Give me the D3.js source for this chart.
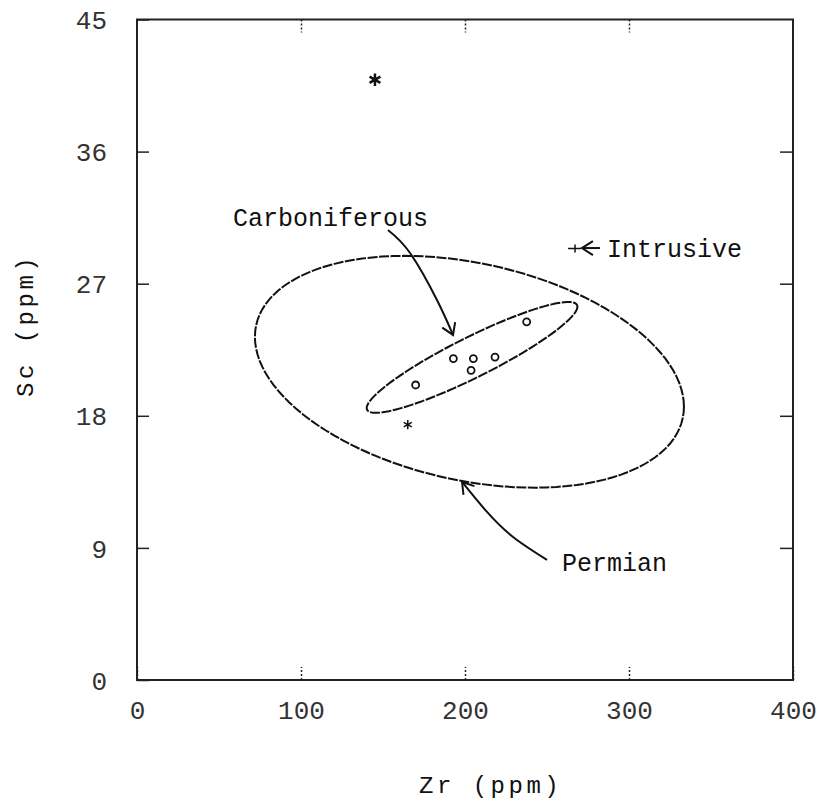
<!DOCTYPE html>
<html>
<head>
<meta charset="utf-8">
<script src="https://cdn.jsdelivr.net/npm/d3@7"></script>
<style>
  body { margin: 0; background: #fff; }
  svg { display: block; }
  .tick text { font-family: "Liberation Mono", monospace; font-size: 26px; fill: #333; }
  .note { font-family: "Liberation Mono", monospace; font-size: 25px; fill: #111; }
  .title { font-family: "Liberation Mono", monospace; font-size: 24px; letter-spacing: 3.5px; fill: #111; }
</style>
</head>
<body>
<script>
// axis setup
var xTicks = [0, 100, 200, 300, 400];
var yTicks = [0, 9, 18, 27, 36, 45];

// samples, Zr vs Sc (ppm)
var carbZr = [237.6, 192.9, 205.1, 218.3, 203.7, 169.9];
var carbSc = [24.4, 21.9, 21.9, 22.0, 21.1, 20.1];
var permZr = [145.1, 165.1];
var permSc = [40.9, 17.4];
var intrZr = [267.1];
var intrSc = [29.4];

// ellipses: centre Zr, centre Sc, then Zr = cx + ax*cos t + bx*sin t, Sc = cy + ay*cos t + by*sin t
var permianEllipse = [202.7, 21.0, 130.8, 0, -2.38, 7.53];
var carbEllipse = [204.3, 21.98, 64.0, 5.5, 3.57, -1.23];

// annotation arrows (data units)
var carbArrowZr = [153.0, 166.5, 182.9, 192.7];
var carbArrowSc = [30.66, 29.09, 25.89, 23.51];
var permArrowZr = [250.0, 229.3, 213.0, 198.2];
var permArrowSc = [8.18, 9.74, 11.5, 13.49];
var intrArrowZr = [282.3, 271.3];
var intrArrowSc = [29.43, 29.43];

var labels = ["Carboniferous", "Intrusive", "Permian"];
var labelZr = [58.5, 286.6, 259.1];
var labelSc = [30.9, 28.82, 7.43];

var width = 822,
    height = 807;

var x = d3.scaleLinear().domain([0, 400]).range([137, 793]);
var y = d3.scaleLinear().domain([0, 45]).range([680, 19.5]);

var svg = d3.select("body").append("svg")
  .attr("width", width)
  .attr("height", height);

svg.append("rect").attr("width", width).attr("height", height).attr("fill", "#fff");

var defs = svg.append("defs");
defs.append("marker")
  .attr("id", "head")
  .attr("viewBox", "-12 -8 14 16")
  .attr("refX", 0).attr("refY", 0)
  .attr("markerWidth", 14).attr("markerHeight", 16)
  .attr("markerUnits", "userSpaceOnUse")
  .attr("orient", "auto")
  .append("path")
  .attr("d", "M-11,-7L0,0L-11,7")
  .attr("fill", "none")
  .attr("stroke", "#111")
  .attr("stroke-width", 2);

// frame
svg.append("rect")
  .attr("x", x(0)).attr("y", y(45))
  .attr("width", x(400) - x(0)).attr("height", y(0) - y(45))
  .attr("fill", "none")
  .attr("stroke", "#222")
  .attr("stroke-width", 2);

// axes with inward ticks
var bottomAxis = svg.append("g")
  .attr("transform", "translate(0," + y(0) + ")")
  .call(d3.axisBottom(x).tickValues(xTicks).tickSize(-13).tickPadding(30).tickFormat(d3.format("d")));
var leftAxis = svg.append("g")
  .attr("transform", "translate(" + x(0) + ",0)")
  .call(d3.axisLeft(y).tickValues(yTicks).tickSize(-12).tickPadding(30).tickFormat(d3.format("d")));
var topAxis = svg.append("g")
  .attr("transform", "translate(0," + y(45) + ")")
  .call(d3.axisTop(x).tickValues(xTicks.slice(1, 4)).tickSize(-13).tickFormat(""));
var rightAxis = svg.append("g")
  .attr("transform", "translate(" + x(400) + ",0)")
  .call(d3.axisRight(y).tickValues(yTicks.slice(1, 5)).tickSize(-13).tickFormat(""));

[bottomAxis, leftAxis, topAxis, rightAxis].forEach(function(g) {
  g.select(".domain").remove();
  g.selectAll(".tick line").attr("stroke", "#222").attr("stroke-width", 1.5);
});
topAxis.selectAll(".tick line").attr("stroke-dasharray", "2,2");
bottomAxis.selectAll(".tick line").attr("stroke-dasharray", "2,2");
leftAxis.selectAll(".tick text").attr("dy", "0.35em");
bottomAxis.selectAll(".tick text").attr("dy", "0.35em");

// titles
svg.append("text").attr("class", "title")
  .attr("x", 419).attr("y", 793)
  .text("Zr (ppm)");
svg.append("text").attr("class", "title")
  .attr("transform", "translate(33,397) rotate(-90)")
  .text("Sc (ppm)");

// ellipses
function ellipsePath(e) {
  var pts = d3.range(0, 360, 3).map(function(a) {
    var t = a * Math.PI / 180;
    return [x(e[0] + e[2] * Math.cos(t) + e[3] * Math.sin(t)),
            y(e[1] + e[4] * Math.cos(t) + e[5] * Math.sin(t))];
  });
  return d3.line().curve(d3.curveLinearClosed)(pts);
}

svg.append("path")
  .attr("d", ellipsePath(permianEllipse))
  .attr("fill", "none")
  .attr("stroke", "#111")
  .attr("stroke-width", 2)
  .attr("stroke-dasharray", "10,1.5");

svg.append("path")
  .attr("d", ellipsePath(carbEllipse))
  .attr("fill", "none")
  .attr("stroke", "#111")
  .attr("stroke-width", 2)
  .attr("stroke-dasharray", "10,1.5");

// arrows
function arrow(zr, sc, curve) {
  var pts = zr.map(function(d, i) { return [x(d), y(sc[i])]; });
  svg.append("path")
    .attr("d", d3.line().curve(curve)(pts))
    .attr("fill", "none")
    .attr("stroke", "#111")
    .attr("stroke-width", 2)
    .attr("marker-end", "url(#head)");
}
arrow(carbArrowZr, carbArrowSc, d3.curveNatural);
arrow(permArrowZr, permArrowSc, d3.curveNatural);
arrow(intrArrowZr, intrArrowSc, d3.curveLinear);

// points
svg.selectAll("circle.carb")
  .data(carbZr)
  .enter()
  .append("circle")
  .attr("class", "carb")
  .attr("cx", function(d) { return x(d); })
  .attr("cy", function(d, i) { return y(carbSc[i]); })
  .attr("r", 3.5)
  .attr("fill", "none")
  .attr("stroke", "#111")
  .attr("stroke-width", 1.8);

svg.selectAll("path.perm")
  .data(permZr)
  .enter()
  .append("path")
  .attr("class", "perm")
  .attr("d", function(d, i) { return d3.symbol().type(d3.symbolAsterisk).size(i == 0 ? 110 : 60)(); })
  .attr("transform", function(d, i) { return "translate(" + x(d) + "," + y(permSc[i]) + ")"; })
  .attr("fill", "none")
  .attr("stroke", "#111")
  .attr("stroke-width", function(d, i) { return i == 0 ? 2.5 : 1.5; });

svg.selectAll("path.intr")
  .data(intrZr)
  .enter()
  .append("path")
  .attr("class", "intr")
  .attr("d", "M-7,0H6M0,-4V4")
  .attr("transform", function(d, i) { return "translate(" + x(d) + "," + y(intrSc[i]) + ")"; })
  .attr("fill", "none")
  .attr("stroke", "#111")
  .attr("stroke-width", 1.5);

// labels
svg.selectAll("text.note")
  .data(labels)
  .enter()
  .append("text")
  .attr("class", "note")
  .attr("x", function(d, i) { return x(labelZr[i]); })
  .attr("y", function(d, i) { return y(labelSc[i]); })
  .text(function(d) { return d; });
</script>
</body>
</html>
